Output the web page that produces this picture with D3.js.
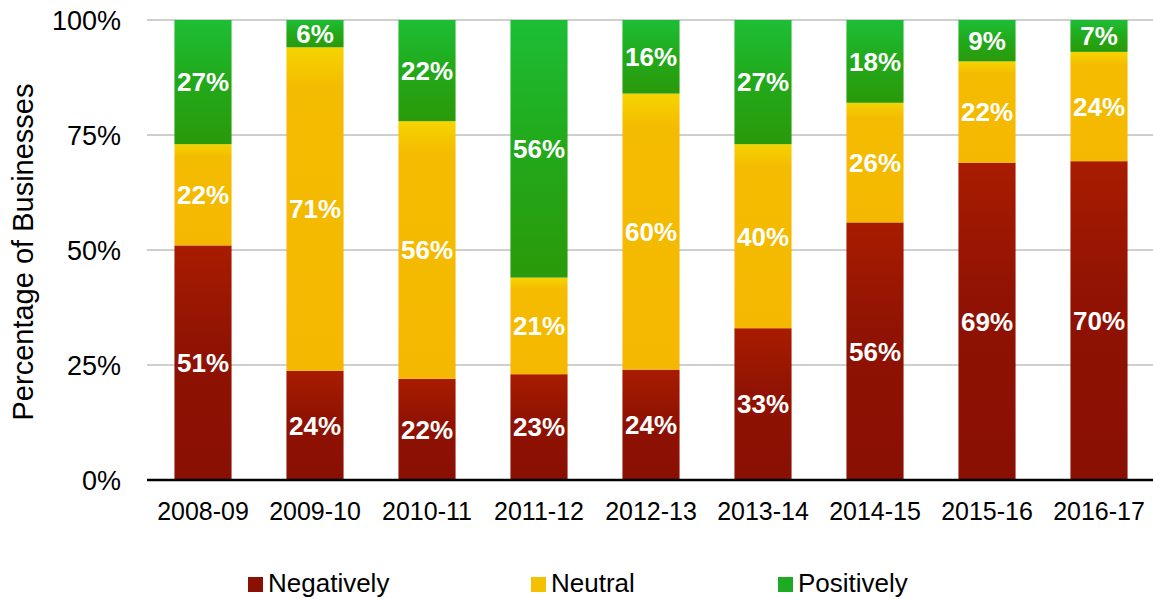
<!DOCTYPE html>
<html>
<head>
<meta charset="utf-8">
<script src="https://cdn.jsdelivr.net/npm/d3@7"></script>
<style>
  html, body { margin: 0; padding: 0; background: #fff; }
  svg { display: block; font-family: "Liberation Sans", Arial, sans-serif; }
</style>
</head>
<body>
<svg id="chart" width="1153" height="599"></svg>
<script>
// Survey periods
const periods = ["2008-09", "2009-10", "2010-11", "2011-12", "2012-13", "2013-14", "2014-15", "2015-16", "2016-17"];
// Share of businesses per response (%)
const negatively = [51, 24, 22, 23, 24, 33, 56, 69, 70];
const neutral    = [22, 71, 56, 21, 60, 40, 26, 22, 24];
const positively = [27,  6, 22, 56, 16, 27, 18,  9,  7];
const seriesNames = ["Negatively", "Neutral", "Positively"];
const yTicks = [0, 0.25, 0.5, 0.75, 1];

const svg = d3.select("#chart");
const margin = { top: 20, right: -2, bottom: 119, left: 147 };
const W = 1153, H = 599;
const innerW = W - margin.left - margin.right;
const innerH = H - margin.top - margin.bottom;

const rows = periods.map((p, i) => ({
  period: p,
  Negatively: negatively[i],
  Neutral: neutral[i],
  Positively: positively[i]
}));

const stacked = d3.stack().keys(seriesNames).offset(d3.stackOffsetExpand)(rows);

const x = d3.scaleBand().domain(periods).range([0, innerW]).paddingInner(0.49).paddingOuter(0.245);
const y = d3.scaleLinear().domain([0, 1]).range([innerH, 0]);

// Gradients for each series, applied per segment
const defs = svg.append("defs");
const grads = {
  Negatively: [[0, "#a81c00"], [0.45, "#8f1203"], [1, "#8a1004"]],
  Neutral:    [[0, "#f6d400"], [0.12, "#f4bc00"], [1, "#f4b800"]],
  Positively: [[0, "#1dbe36"], [0.5, "#22a91a"], [1, "#2a9a0a"]]
};
const legendColors = { Negatively: "#8b1003", Neutral: "#f5c000", Positively: "#1eaa22" };
Object.entries(grads).forEach(([k, stops]) => {
  const g = defs.append("linearGradient").attr("id", "g-" + k)
    .attr("x1", 0).attr("y1", 0).attr("x2", 0).attr("y2", 1);
  stops.forEach(([o, c]) => g.append("stop").attr("offset", o).attr("stop-color", c));
});

const g = svg.append("g").attr("transform", `translate(${margin.left},${margin.top})`);

// Gridlines
g.append("g").selectAll("line").data(yTicks.filter(t => t > 0)).join("line")
  .attr("x1", 0).attr("x2", innerW + 2)
  .attr("y1", d => y(d)).attr("y2", d => y(d))
  .attr("stroke", "#bfbfbf").attr("stroke-width", 1.5);

// Y axis labels
const yAxis = d3.axisLeft(y).tickValues(yTicks).tickFormat(d3.format(".0%")).tickSize(0).tickPadding(26);
const ya = g.append("g").call(yAxis);
ya.select(".domain").remove();
ya.selectAll("text").attr("font-size", 27).attr("fill", "#000").attr("font-family", "Liberation Sans, Arial, sans-serif").attr("dy", "0.35em");

// Bars
const layers = g.append("g").selectAll("g").data(stacked).join("g")
  .attr("fill", d => `url(#g-${d.key})`);
layers.selectAll("rect").data(d => d.map(v => ({ v, key: d.key }))).join("rect")
  .attr("x", d => x(d.v.data.period))
  .attr("width", x.bandwidth())
  .attr("y", d => y(d.v[1]))
  .attr("height", d => y(d.v[0]) - y(d.v[1]));

// Value labels
const labels = g.append("g");
stacked.forEach(layer => {
  layer.forEach(v => {
    labels.append("text")
      .attr("x", x(v.data.period) + x.bandwidth() / 2)
      .attr("y", (y(v[0]) + y(v[1])) / 2)
      .attr("dy", "0.36em")
      .attr("text-anchor", "middle")
      .attr("fill", "#fff")
      .attr("font-weight", "bold")
      .attr("font-size", 26)
      .text(v.data[layer.key] + "%");
  });
});

// Baseline
g.append("line").attr("x1", 0).attr("x2", innerW + 2).attr("y1", innerH).attr("y2", innerH)
  .attr("stroke", "#000").attr("stroke-width", 2.5);

// X axis labels
const xAxis = d3.axisBottom(x).tickSize(0).tickPadding(22);
const xa = g.append("g").attr("transform", `translate(0,${innerH})`).call(xAxis);
xa.select(".domain").remove();
xa.selectAll("text").attr("font-size", 25).attr("fill", "#000").attr("font-family", "Liberation Sans, Arial, sans-serif");

// Y axis title
svg.append("text")
  .attr("transform", `translate(33,252) rotate(-90)`)
  .attr("text-anchor", "middle")
  .attr("font-size", 29)
  .attr("fill", "#000")
  .text("Percentage of Businesses");

// Legend
const legendX = [248, 531, 778];
const legend = svg.append("g").selectAll("g").data(seriesNames).join("g")
  .attr("transform", (d, i) => `translate(${legendX[i]},577)`);
legend.append("rect").attr("width", 15).attr("height", 15).attr("fill", d => legendColors[d]);
legend.append("text").attr("x", 20).attr("y", 15)
  .attr("font-size", 26).attr("fill", "#000").text(d => d);
</script>
</body>
</html>
